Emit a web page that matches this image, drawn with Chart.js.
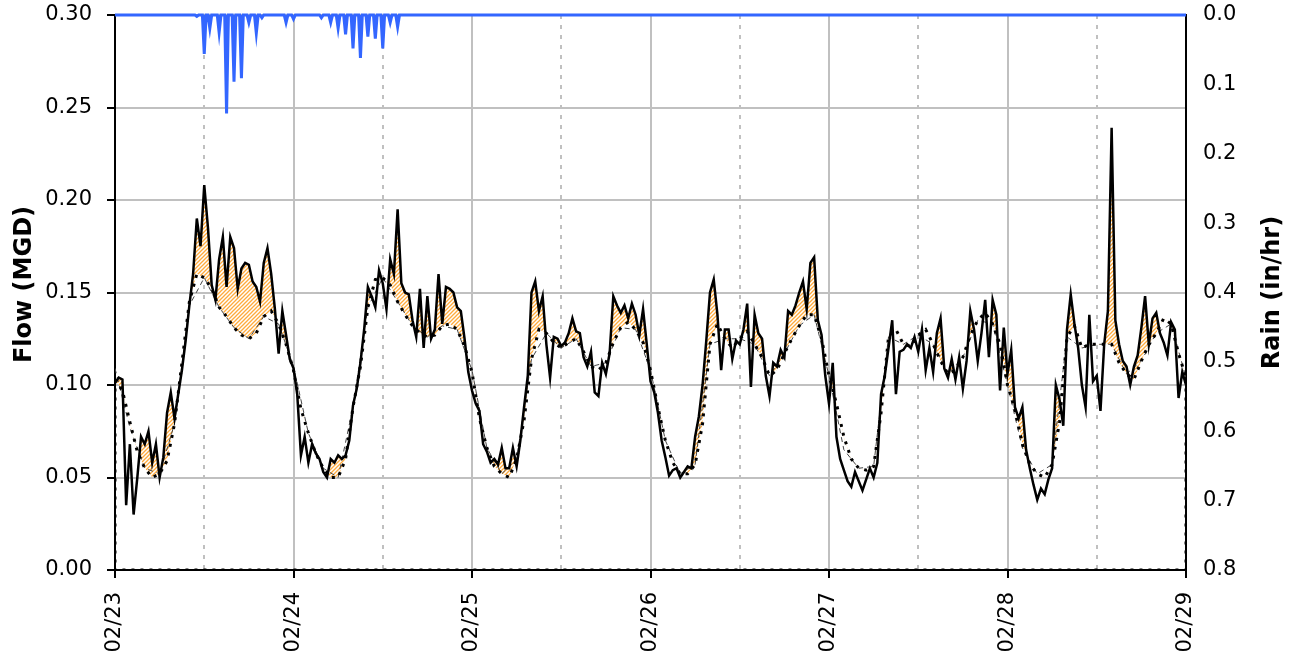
<!DOCTYPE html>
<html>
<head>
<meta charset="utf-8">
<title>Flow and Rain</title>
<script src="https://cdn.jsdelivr.net/npm/chart.js@4.4.0/dist/chart.umd.min.js"></script>
<style>
  html, body { margin: 0; padding: 0; background: #fff; }
</style>
</head>
<body>
<canvas id="flowChart" width="1296" height="658"></canvas>
<script>
// x axis is hours since 02/23 00:00
const dayLabels = ['02/23', '02/24', '02/25', '02/26', '02/27', '02/28', '02/29'];
const middayHours = [12, 36, 60, 84, 108, 132];

// metered flow, MGD, every 30 minutes
const flowStep = 0.5;
const flowObserved = [
  // 02/23
  0.101, 0.104, 0.103, 0.035, 0.068, 0.030, 0.050, 0.072, 0.068, 0.075, 0.058, 0.068,
  0.050, 0.061, 0.085, 0.096, 0.082, 0.095, 0.108, 0.124, 0.143, 0.160, 0.190, 0.175,
  0.208, 0.185, 0.154, 0.146, 0.168, 0.180, 0.153, 0.180, 0.174, 0.152, 0.163, 0.166,
  0.165, 0.156, 0.153, 0.145, 0.166, 0.174, 0.160, 0.141, 0.117, 0.140, 0.127, 0.114,
  // 02/24
  0.109, 0.095, 0.062, 0.072, 0.058, 0.068, 0.063, 0.060, 0.053, 0.050, 0.060, 0.058,
  0.062, 0.060, 0.062, 0.070, 0.089, 0.098, 0.112, 0.130, 0.153, 0.148, 0.142, 0.162,
  0.155, 0.141, 0.168, 0.160, 0.195, 0.155, 0.150, 0.149, 0.135, 0.126, 0.152, 0.120,
  0.148, 0.125, 0.130, 0.160, 0.133, 0.153, 0.152, 0.150, 0.142, 0.140, 0.125, 0.107,
  // 02/25
  0.097, 0.090, 0.086, 0.068, 0.064, 0.058, 0.060, 0.057, 0.066, 0.055, 0.055, 0.066,
  0.056, 0.070, 0.088, 0.105, 0.150, 0.156, 0.140, 0.148, 0.122, 0.104, 0.126, 0.125,
  0.121, 0.123, 0.128, 0.136, 0.129, 0.128, 0.115, 0.110, 0.118, 0.096, 0.094, 0.112,
  0.106, 0.117, 0.148, 0.143, 0.139, 0.143, 0.136, 0.144, 0.138, 0.127, 0.141, 0.122,
  // 02/26
  0.102, 0.096, 0.085, 0.070, 0.061, 0.051, 0.054, 0.055, 0.050, 0.053, 0.056, 0.055,
  0.072, 0.083, 0.100, 0.124, 0.150, 0.157, 0.138, 0.108, 0.130, 0.130, 0.114, 0.124,
  0.122, 0.130, 0.144, 0.099, 0.138, 0.128, 0.125, 0.105, 0.094, 0.112, 0.110, 0.119,
  0.115, 0.140, 0.138, 0.143, 0.150, 0.156, 0.141, 0.166, 0.169, 0.135, 0.127, 0.105,
  // 02/27
  0.090, 0.112, 0.072, 0.060, 0.054, 0.048, 0.045, 0.053, 0.048, 0.043, 0.049, 0.055,
  0.050, 0.058, 0.095, 0.105, 0.120, 0.135, 0.095, 0.118, 0.119, 0.122, 0.120, 0.126,
  0.118, 0.130, 0.108, 0.120, 0.107, 0.128, 0.136, 0.109, 0.104, 0.114, 0.103, 0.115,
  0.098, 0.113, 0.140, 0.130, 0.113, 0.128, 0.146, 0.115, 0.146, 0.138, 0.097, 0.131,
  // 02/28
  0.106, 0.119, 0.088, 0.082, 0.088, 0.065, 0.055, 0.046, 0.038, 0.044, 0.041, 0.049,
  0.055, 0.100, 0.092, 0.078, 0.130, 0.149, 0.133, 0.120, 0.100, 0.088, 0.138, 0.102,
  0.105, 0.086, 0.122, 0.140, 0.239, 0.135, 0.122, 0.113, 0.110, 0.100, 0.110, 0.116,
  0.131, 0.148, 0.122, 0.136, 0.139, 0.128, 0.123, 0.116, 0.134, 0.130, 0.093, 0.107,
  // 02/29
  0.100
];

// dry weather flow estimate, MGD, hourly
const dwfHourly = [
  0.103, 0.097, 0.080, 0.064, 0.055, 0.050, 0.052, 0.059, 0.079, 0.112, 0.145, 0.160,
  0.158, 0.152, 0.142, 0.137, 0.131, 0.127, 0.125, 0.128, 0.137, 0.140, 0.133, 0.122,
  0.108, 0.087, 0.074, 0.063, 0.055, 0.050, 0.050, 0.060, 0.088, 0.110, 0.142, 0.157,
  0.158, 0.154, 0.145, 0.138, 0.132, 0.128, 0.126, 0.127, 0.132, 0.133, 0.130, 0.121,
  0.107, 0.082, 0.066, 0.056, 0.052, 0.050, 0.060, 0.081, 0.114, 0.130, 0.128, 0.123,
  0.120, 0.123, 0.125, 0.118, 0.110, 0.108, 0.112, 0.123, 0.131, 0.134, 0.130, 0.123,
  0.108, 0.088, 0.070, 0.058, 0.052, 0.052, 0.057, 0.079, 0.122, 0.133, 0.125, 0.120,
  0.125, 0.129, 0.122, 0.115, 0.105, 0.108, 0.117, 0.125, 0.132, 0.138, 0.138, 0.125,
  0.105, 0.090, 0.072, 0.060, 0.055, 0.054, 0.056, 0.085, 0.126, 0.130, 0.122, 0.121,
  0.127, 0.130, 0.122, 0.113, 0.106, 0.108, 0.115, 0.127, 0.135, 0.139, 0.133, 0.122,
  0.100, 0.087, 0.068, 0.057, 0.052, 0.050, 0.057, 0.080, 0.126, 0.132, 0.120, 0.122,
  0.122, 0.122, 0.122, 0.112, 0.106, 0.103, 0.113, 0.122, 0.128, 0.136, 0.133, 0.117,
  0.104
];

// average dry weather flow, MGD, every 2 hours
const avgStep = 2;
const dwfAverage = [
  0.109, 0.077, 0.055, 0.052, 0.079, 0.143, 0.158, 0.142, 0.131, 0.125, 0.137, 0.133,
  0.110, 0.074, 0.055, 0.050, 0.088, 0.142, 0.158, 0.145, 0.132, 0.126, 0.132, 0.130,
  0.108, 0.066, 0.052, 0.060, 0.114, 0.128, 0.120, 0.125, 0.110, 0.112, 0.131, 0.130,
  0.108, 0.070, 0.052, 0.057, 0.122, 0.125, 0.125, 0.122, 0.105, 0.117, 0.132, 0.138,
  0.105, 0.065, 0.055, 0.056, 0.126, 0.122, 0.127, 0.122, 0.106, 0.115, 0.135, 0.133,
  0.100, 0.066, 0.052, 0.057, 0.126, 0.120, 0.122, 0.122, 0.106, 0.113, 0.128, 0.133,
  0.104
];

// rainfall intensity, in/hr, 15 minute gauge readings (all others are zero)
const rainHours = [
  11.0, 12.0, 12.75, 14.0, 15.0, 16.0, 17.0, 18.0, 19.0, 19.75, 23.0, 24.0,
  27.75, 29.0, 30.0, 31.0, 32.0, 33.0, 34.0, 35.0, 36.0, 37.0, 38.0
];
const rainValues = [
  0.002, 0.056, 0.019, 0.025, 0.142, 0.096, 0.091, 0.011, 0.026, 0.004, 0.011, 0.006,
  0.004, 0.011, 0.019, 0.028, 0.048, 0.062, 0.031, 0.034, 0.048, 0.011, 0.017
];

const observedPoints = flowObserved.map((v, i) => ({ x: i * flowStep, y: v }));
const dwfPoints = dwfHourly.map((v, i) => ({ x: i, y: v }));
const avgPoints = dwfAverage.map((v, i) => ({ x: i * avgStep, y: v }));
// dotted frame: down the left edge, along zero, up the right edge
const edgePoints = [
  { x: 0, y: dwfHourly[0] }, { x: 0, y: 0 },
  { x: 144, y: 0 }, { x: 144, y: dwfHourly[dwfHourly.length - 1] }
];
const rainPoints = [];
for (let q = 0; q <= 144 * 4; q++) {
  const h = q / 4;
  const i = rainHours.indexOf(h);
  rainPoints.push({ x: h, y: i >= 0 ? rainValues[i] : 0 });
}

const canvas = document.getElementById('flowChart');
const ctx = canvas.getContext('2d');

function makeHatch() {
  const tile = document.createElement('canvas');
  tile.width = 4;
  tile.height = 4;
  const g = tile.getContext('2d');
  g.fillStyle = 'rgba(255,255,255,1)';
  g.fillRect(0, 0, 4, 4);
  g.strokeStyle = 'rgb(255,170,60)';
  g.lineWidth = 1.3;
  g.beginPath();
  g.moveTo(0, 4); g.lineTo(4, 0);
  g.moveTo(-1, 1); g.lineTo(1, -1);
  g.moveTo(3, 5); g.lineTo(5, 3);
  g.stroke();
  return ctx.createPattern(tile, 'repeat');
}

// dotted grey line at noon of every day
const middayLines = {
  id: 'middayLines',
  beforeDraw(chart) {
    const { ctx, chartArea, scales } = chart;
    ctx.save();
    ctx.strokeStyle = '#c0c0c0';
    ctx.lineWidth = 2;
    ctx.setLineDash([4, 6]);
    middayHours.forEach(h => {
      const x = Math.round(scales.x.getPixelForValue(h));
      ctx.beginPath();
      ctx.moveTo(x, chartArea.top);
      ctx.lineTo(x, chartArea.bottom);
      ctx.stroke();
    });
    ctx.restore();
  }
};

// both axis titles read bottom to top
const axisTitles = {
  id: 'axisTitles',
  afterDraw(chart) {
    const { ctx, chartArea } = chart;
    const midY = (chartArea.top + chartArea.bottom) / 2;
    ctx.save();
    ctx.font = 'bold 24px "DejaVu Sans", Verdana, sans-serif';
    ctx.fillStyle = '#000';
    ctx.textAlign = 'center';
    ctx.textBaseline = 'middle';
    [[25, midY - 8, 'Flow (MGD)'], [1273, midY, 'Rain (in/hr)']].forEach(([x, y, text]) => {
      ctx.save();
      ctx.translate(x, y);
      ctx.rotate(-Math.PI / 2);
      ctx.fillText(text, 0, 0);
      ctx.restore();
    });
    ctx.restore();
  }
};

// keep tick labels from pushing the plot area inward
function fixedSize(width, height) {
  return s => {
    if (width) s.width = width;
    if (height) s.height = height;
    s.paddingTop = 0;
    s.paddingBottom = 0;
    s.paddingLeft = 0;
    s.paddingRight = 0;
  };
}

Chart.defaults.font.family = '"DejaVu Sans", Verdana, sans-serif';
Chart.defaults.font.size = 21;
Chart.defaults.color = '#000';

new Chart(ctx, {
  type: 'line',
  data: {
    datasets: [
      {
        label: 'Observed Flow',
        data: observedPoints,
        borderColor: '#000',
        borderWidth: 2.5,
        fill: { target: 1, above: makeHatch(), below: 'rgba(0,0,0,0)' }
      },
      {
        label: 'DWF',
        data: dwfPoints,
        borderColor: '#000',
        borderWidth: 3,
        borderDash: [3, 6],
        fill: false
      },
      {
        label: 'Average DWF',
        data: avgPoints,
        borderColor: '#444',
        borderWidth: 1,
        borderDash: [5, 4],
        fill: false
      },
      {
        label: 'Edges',
        data: edgePoints,
        borderColor: '#000',
        borderWidth: 3,
        borderDash: [3, 6],
        fill: false
      },
      {
        label: 'Rain',
        data: rainPoints,
        yAxisID: 'rain',
        borderColor: '#3366ff',
        backgroundColor: '#3366ff',
        borderWidth: 3,
        clip: false,
        fill: 'origin'
      }
    ]
  },
  options: {
    responsive: false,
    animation: false,
    events: [],
    layout: { padding: { top: 15, left: 0, right: 0, bottom: 0 } },
    elements: {
      point: { radius: 0 },
      line: { tension: 0, borderCapStyle: 'butt', borderJoinStyle: 'miter' }
    },
    plugins: {
      legend: { display: false },
      tooltip: { enabled: false },
      filler: { drawTime: 'beforeDatasetsDraw' }
    },
    scales: {
      x: {
        type: 'linear',
        min: 0,
        max: 144,
        ticks: {
          stepSize: 24,
          autoSkip: false,
          maxRotation: 90,
          minRotation: 90,
          padding: 14,
          callback: v => dayLabels[v / 24]
        },
        grid: { color: '#c0c0c0', lineWidth: 2, tickColor: '#000', tickLength: 8, tickWidth: 2 },
        border: { color: '#000', width: 2 },
        afterFit: fixedSize(0, 88)
      },
      y: {
        position: 'left',
        min: 0,
        max: 0.30,
        ticks: {
          stepSize: 0.05,
          padding: 15,
          callback: v => v.toFixed(2)
        },
        grid: { color: '#c0c0c0', lineWidth: 2, tickColor: '#000', tickLength: 8, tickWidth: 2 },
        border: { color: '#000', width: 2 },
        afterFit: fixedSize(115, 0)
      },
      rain: {
        position: 'right',
        reverse: true,
        min: 0,
        max: 0.8,
        ticks: {
          stepSize: 0.1,
          padding: 17,
          callback: v => v.toFixed(1)
        },
        grid: { display: false, drawTicks: false },
        border: { color: '#000', width: 2 },
        afterFit: fixedSize(110, 0)
      }
    }
  },
  plugins: [middayLines, axisTitles]
});
</script>
</body>
</html>
